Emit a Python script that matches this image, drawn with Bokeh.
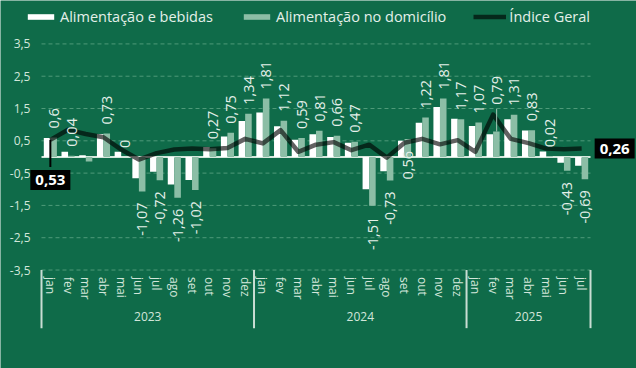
import math
from bokeh.plotting import figure
from bokeh.models import (FixedTicker, LinearAxis, Label, Legend, LegendItem,
                          ColumnDataSource)
from bokeh.core.properties import value
from bokeh.transform import dodge
from bokeh.embed import file_html
from bokeh.resources import INLINE

# ---------------- data ----------------
month_names = ["jan", "fev", "mar", "abr", "mai", "jun", "jul", "ago", "set", "out", "nov", "dez"]
months = month_names * 2 + month_names[:7]
years = ["2023", "2024", "2025"]
year_months = [12, 12, 7]

alim_bebidas = [0.59, 0.16, 0.05, 0.71, 0.16, -0.66, -0.46, -0.85, -0.71, 0.31, 0.63, 1.11,
                1.38, 0.95, 0.53, 0.70, 0.62, 0.44, -1.00, -0.44, 0.50, 1.06, 1.55, 1.18,
                0.96, 0.70, 1.17, 0.82, 0.17, -0.18, -0.27]
alim_domicilio = [0.60, 0.04, -0.14, 0.73, 0.00, -1.07, -0.72, -1.26, -1.02, 0.27, 0.75, 1.34,
                  1.81, 1.12, 0.59, 0.81, 0.66, 0.47, -1.51, -0.73, 0.56, 1.22, 1.81, 1.17,
                  1.07, 0.79, 1.31, 0.83, 0.02, -0.43, -0.69]
indice_geral = [0.53, 0.84, 0.71, 0.61, 0.23, -0.08, 0.12, 0.23, 0.26, 0.24, 0.28, 0.56,
                0.42, 0.83, 0.16, 0.38, 0.46, 0.21, 0.38, -0.02, 0.44, 0.56, 0.39, 0.52,
                0.16, 1.31, 0.56, 0.43, 0.26, 0.24, 0.26]
y_ticks = [-3.5, -2.5, -1.5, -0.5, 0.5, 1.5, 2.5, 3.5]

# label quirks seen in the reference
hidden_labels = {2}
raised_labels = {25: 0.55}
base_labels = {20}

# ---------------- styles ----------------
BG = "#0f6b49"
LIGHT = "#8cbea6"
TXT = "#e4f0e9"
AXTXT = "#d2e6da"
SEP = "#c9ddd3"
FONT = "Open Sans"
SEP_DEPTH = 1.8

n = len(months)
xs = list(range(n))
y_min = y_ticks[0]

p = figure(width=636, height=368, x_range=(-2.815, 33.097), y_range=(-6.549, 4.844),
           output_backend="svg", toolbar_location=None, min_border=0,
           background_fill_color=BG, border_fill_color=BG, outline_line_color=None)
p.xgrid.visible = False
p.ygrid.visible = False

# gridlines (dashed) and zero line
p.segment(x0=[-0.5] * len(y_ticks), x1=[n - 0.5] * len(y_ticks), y0=y_ticks, y1=y_ticks,
          line_color="#4f9a79", line_width=1, line_dash="4 3")
p.segment(x0=[-0.5], x1=[n - 0.5], y0=[0], y1=[0], line_color="#d5e8dd", line_width=2)

# year separators
bounds = [-0.5]
acc = 0
for c in year_months:
    acc += c
    bounds.append(acc - 0.5)
p.segment(x0=bounds, x1=bounds, y0=[y_min] * len(bounds), y1=[y_min - SEP_DEPTH] * len(bounds),
          line_color=SEP, line_width=2)

# bars
bw = 0.37
src = ColumnDataSource(dict(x=xs, a=alim_bebidas, d=alim_domicilio, g=indice_geral))
r1 = p.vbar(x=dodge("x", -0.185, range=p.x_range), top="a", width=bw, source=src,
            fill_color="white", line_color=None)
r2 = p.vbar(x=dodge("x", 0.185, range=p.x_range), top="d", width=bw, source=src,
            fill_color=LIGHT, line_color=None)
r3 = p.line(x="x", y="g", source=src, line_color="black", line_alpha=0.62, line_width=4.5,
            line_join="round")

# data labels (domicílio)
def fmt(v):
    return f"{v:g}".replace(".", ",")

pos = dict(x=[], y=[], t=[])
neg = dict(x=[], y=[], t=[])
base = dict(x=[], y=[], t=[])
for i, v in enumerate(alim_domicilio):
    if i in hidden_labels:
        continue
    if i in base_labels:
        base["x"].append(i + 0.2); base["y"].append(0); base["t"].append(fmt(v))
    elif v >= 0:
        pos["x"].append(i + 0.2); pos["y"].append(v + raised_labels.get(i, 0)); pos["t"].append(fmt(v))
    else:
        neg["x"].append(i + 0.2); neg["y"].append(v); neg["t"].append(fmt(v))

lbl_style = dict(angle=math.pi / 2, text_baseline="middle", text_color=TXT,
                 text_font=value(FONT), text_font_size="14.5px")
p.text(x="x", y="y", text="t", source=ColumnDataSource(pos), text_align="left", y_offset=-9, **lbl_style)
p.text(x="x", y="y", text="t", source=ColumnDataSource(neg), text_align="right", y_offset=11, **lbl_style)
p.text(x="x", y="y", text="t", source=ColumnDataSource(base), text_align="right", y_offset=-6, **lbl_style)

# leader for raised label
for i, up in raised_labels.items():
    p.segment(x0=[i + 0.2], x1=[i + 0.2], y0=[alim_domicilio[i]], y1=[alim_domicilio[i] + up + 0.15],
              line_color="#a9c9b9", line_width=1)

# callouts for índice geral
first, last = 0, n - 1
p.segment(x0=[first], x1=[first], y0=[indice_geral[first]], y1=[indice_geral[first] - 0.84],
          line_color="black", line_width=2)
callout = dict(text_baseline="middle", text_color="white", text_font=FONT,
               text_font_style="bold", text_font_size="15px",
               background_fill_color="black", padding=5)
p.add_layout(Label(x=first, y=indice_geral[first] - 1.24,
                   text=f"{indice_geral[first]:.2f}".replace(".", ","),
                   text_align="center", **callout))
p.add_layout(Label(x=last, y=indice_geral[last], x_offset=13,
                   text=f"{indice_geral[last]:.2f}".replace(".", ","),
                   text_align="left", **callout))

# y axis (fixed at the left edge of the data)
ya = p.yaxis[0]
ya.fixed_location = -0.5
ya.ticker = FixedTicker(ticks=y_ticks)
ya.major_label_overrides = {t: fmt(t) for t in y_ticks}
ya.axis_line_color = None
ya.major_tick_line_color = None
ya.minor_tick_line_color = None
ya.major_tick_out = 0
ya.minor_tick_out = 0
ya.major_label_standoff = 11
ya.major_label_text_color = AXTXT
ya.major_label_text_font = FONT
ya.major_label_text_font_size = "12px"

# month axis
xa = p.xaxis[0]
xa.fixed_location = y_min
xa.ticker = FixedTicker(ticks=xs)
xa.major_label_overrides = {i: m for i, m in enumerate(months)}
xa.major_label_orientation = "vertical"
xa.axis_line_color = None
xa.major_tick_line_color = None
xa.minor_tick_line_color = None
xa.major_tick_out = 0
xa.minor_tick_out = 0
xa.major_label_standoff = 7
xa.major_label_text_color = AXTXT
xa.major_label_text_font = FONT
xa.major_label_text_font_size = "12px"

# year axis
centers = []
start = 0
for c in year_months:
    centers.append(start + (c - 1) / 2)
    start += c
yr = LinearAxis(ticker=FixedTicker(ticks=centers), fixed_location=y_min,
                major_label_overrides={c: y for c, y in zip(centers, years)})
yr.axis_line_color = None
yr.major_tick_line_color = None
yr.minor_tick_line_color = None
yr.major_tick_out = 0
yr.minor_tick_out = 0
yr.major_label_standoff = 42
yr.major_label_text_color = AXTXT
yr.major_label_text_font = FONT
yr.major_label_text_font_size = "12px"
p.add_layout(yr, "below")

legend = Legend(items=[LegendItem(label="Alimentação e bebidas", renderers=[r1]),
                       LegendItem(label="Alimentação no domicílio", renderers=[r2]),
                       LegendItem(label="Índice Geral", renderers=[r3])],
                location=(24, 342), orientation="horizontal",
                background_fill_alpha=0, border_line_color=None,
                label_text_color=TXT, label_text_font=FONT, label_text_font_size="14.5px",
                glyph_width=33, glyph_height=7, spacing=27, padding=0, margin=0,
                label_standoff=3)
p.add_layout(legend)

html = file_html(p, INLINE)
html = html.replace("<body>", f'<body style="background-color:{BG};">', 1)
open("out.html", "w").write(html)
